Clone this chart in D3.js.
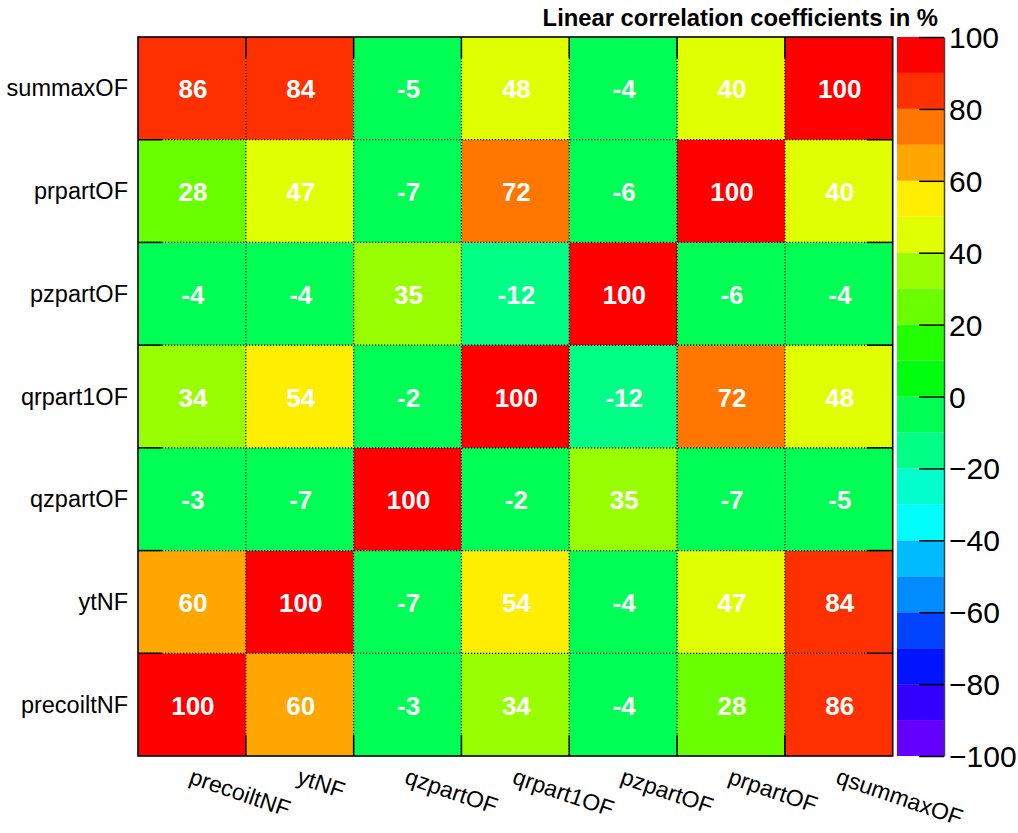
<!DOCTYPE html>
<html>
<head>
<meta charset="utf-8">
<script src="https://cdn.jsdelivr.net/npm/d3@7"></script>
<style>
  html, body { margin: 0; padding: 0; background: #fff; }
  svg { display: block; font-family: "Liberation Sans", Arial, Helvetica, sans-serif; }
</style>
</head>
<body>
<svg id="chart" width="1018" height="833"></svg>
<script>
// Variables along the horizontal axis (left to right)
const colLabels = ["precoiltNF", "ytNF", "qzpartOF", "qrpart1OF", "pzpartOF", "prpartOF", "qsummaxOF"];
// Variables along the vertical axis (bottom to top)
const rowLabels = ["precoiltNF", "ytNF", "qzpartOF", "qrpart1OF", "pzpartOF", "prpartOF", "summaxOF"];

// Correlation coefficients in %, one array per row (bottom to top), columns left to right
const rowPrecoiltNF = [100, 60, -3, 34, -4, 28, 86];
const rowYtNF       = [60, 100, -7, 54, -4, 47, 84];
const rowQzpartOF   = [-3, -7, 100, -2, 35, -7, -5];
const rowQrpart1OF  = [34, 54, -2, 100, -12, 72, 48];
const rowPzpartOF   = [-4, -4, 35, -12, 100, -6, -4];
const rowPrpartOF   = [28, 47, -7, 72, -6, 100, 40];
const rowSummaxOF   = [86, 84, -5, 48, -4, 40, 100];
const matrixRows = [rowPrecoiltNF, rowYtNF, rowQzpartOF, rowQrpart1OF, rowPzpartOF, rowPrpartOF, rowSummaxOF];

// Colour-bar range and tick values
const zDomain = [-100, 100];
const zTicks = [-100, -80, -60, -40, -20, 0, 20, 40, 60, 80, 100];

// 20-level violet-to-red palette
const palette = [
  "#6300ff", "#3300ff", "#0014ff", "#0044ff", "#008bff",
  "#00bbff", "#00fffc", "#00ffcc", "#00ff85", "#00ff55",
  "#00ff0e", "#22ff00", "#69ff00", "#99ff00", "#e0ff00",
  "#ffee00", "#ffa700", "#ff7700", "#ff3000", "#ff0000"
];

const svg = d3.select("#chart");

// Plot frame
const frame = { left: 138, right: 892.7, top: 37, bottom: 756 };
const bar = { left: 897, right: 944 };

const x = d3.scaleBand().domain(colLabels).range([frame.left, frame.right]).padding(0);
const y = d3.scaleBand().domain(d3.range(rowLabels.length)).range([frame.bottom, frame.top]).padding(0);
const color = d3.scaleQuantize().domain(zDomain).range(palette);

const cells = [];
matrixRows.forEach((row, ri) => {
  row.forEach((v, ci) => cells.push({ ri, col: colLabels[ci], v }));
});

// Cells
svg.append("g").selectAll("rect")
  .data(cells)
  .join("rect")
  .attr("x", d => x(d.col))
  .attr("y", d => y(d.ri))
  .attr("width", x.bandwidth())
  .attr("height", y.bandwidth())
  .attr("fill", d => color(d.v));

// Dotted grid at the internal cell boundaries
const grid = svg.append("g").attr("stroke", "#000").attr("stroke-width", 1.2).attr("stroke-dasharray", "1.2,1.8");
colLabels.slice(1).forEach(c => {
  grid.append("line").attr("x1", x(c)).attr("x2", x(c)).attr("y1", frame.top).attr("y2", frame.bottom);
});
d3.range(1, rowLabels.length).forEach(i => {
  const yy = y(i) + y.bandwidth();
  grid.append("line").attr("x1", frame.left).attr("x2", frame.right).attr("y1", yy).attr("y2", yy);
});

// Solid tick marks at the boundaries on all four sides
const ticks = svg.append("g").attr("stroke", "#000").attr("stroke-width", 1.5);
colLabels.slice(1).forEach(c => {
  ticks.append("line").attr("x1", x(c)).attr("x2", x(c)).attr("y1", frame.bottom).attr("y2", frame.bottom - 21);
  ticks.append("line").attr("x1", x(c)).attr("x2", x(c)).attr("y1", frame.top).attr("y2", frame.top + 21);
});
d3.range(1, rowLabels.length).forEach(i => {
  const yy = y(i) + y.bandwidth();
  ticks.append("line").attr("x1", frame.left).attr("x2", frame.left + 24).attr("y1", yy).attr("y2", yy);
  ticks.append("line").attr("x1", frame.right).attr("x2", frame.right - 26).attr("y1", yy).attr("y2", yy);
});

// Frame
svg.append("rect")
  .attr("x", frame.left).attr("y", frame.top)
  .attr("width", frame.right - frame.left).attr("height", frame.bottom - frame.top)
  .attr("fill", "none").attr("stroke", "#000").attr("stroke-width", 1.6);

// Value text in each cell
svg.append("g").selectAll("text")
  .data(cells)
  .join("text")
  .attr("x", d => x(d.col) + x.bandwidth() / 2 + 1)
  .attr("y", d => y(d.ri) + y.bandwidth() / 2 + 1)
  .attr("text-anchor", "middle")
  .attr("dominant-baseline", "central")
  .attr("fill", "#fff")
  .attr("font-weight", "bold")
  .attr("font-size", 26)
  .text(d => d3.format("d")(d.v).replace("\u2212", "-"));

// Row labels
svg.append("g").selectAll("text")
  .data(rowLabels)
  .join("text")
  .attr("x", 128)
  .attr("y", (d, i) => y(i) + y.bandwidth() / 2)
  .attr("text-anchor", "end")
  .attr("dominant-baseline", "central")
  .attr("font-size", 23.5)
  .attr("fill", "#000")
  .text(d => d);

// Column labels, slanted downwards
svg.append("g").selectAll("text")
  .data(colLabels)
  .join("text")
  .attr("transform", d => `translate(${x(d) + x.bandwidth() / 2 - 4},783) rotate(19)`)
  .attr("text-anchor", "start")
  .attr("font-size", 23)
  .attr("fill", "#000")
  .text(d => d);

// Colour bar
const z = d3.scaleLinear().domain(zDomain).range([frame.bottom, frame.top]);
const bands = palette.map((c, i) => ({ c, lo: zDomain[0] + i * 10, hi: zDomain[0] + (i + 1) * 10 }));
svg.append("g").selectAll("rect")
  .data(bands)
  .join("rect")
  .attr("x", bar.left)
  .attr("y", d => z(d.hi))
  .attr("width", bar.right - bar.left)
  .attr("height", d => z(d.lo) - z(d.hi))
  .attr("fill", d => d.c);

const zAxis = svg.append("g")
  .attr("transform", `translate(${bar.right},0)`)
  .call(d3.axisRight(z).tickValues(zTicks).tickSize(-25).tickSizeOuter(0).tickPadding(5).tickFormat(d3.format("d")));
zAxis.select(".domain").attr("stroke", "#444").attr("stroke-width", 1.5);
zAxis.selectAll(".tick line").attr("stroke", "#000").attr("stroke-width", 1.5);
zAxis.selectAll(".tick text")
  .attr("font-family", "Liberation Sans, Arial, sans-serif")
  .attr("font-size", 30)
  .attr("fill", "#000")
  .attr("dy", "0.35em");

// Title
svg.append("text")
  .attr("x", 938)
  .attr("y", 26)
  .attr("text-anchor", "end")
  .attr("font-weight", "bold")
  .attr("font-size", 23.8)
  .attr("fill", "#000")
  .text("Linear correlation coefficients in %");
</script>
</body>
</html>
